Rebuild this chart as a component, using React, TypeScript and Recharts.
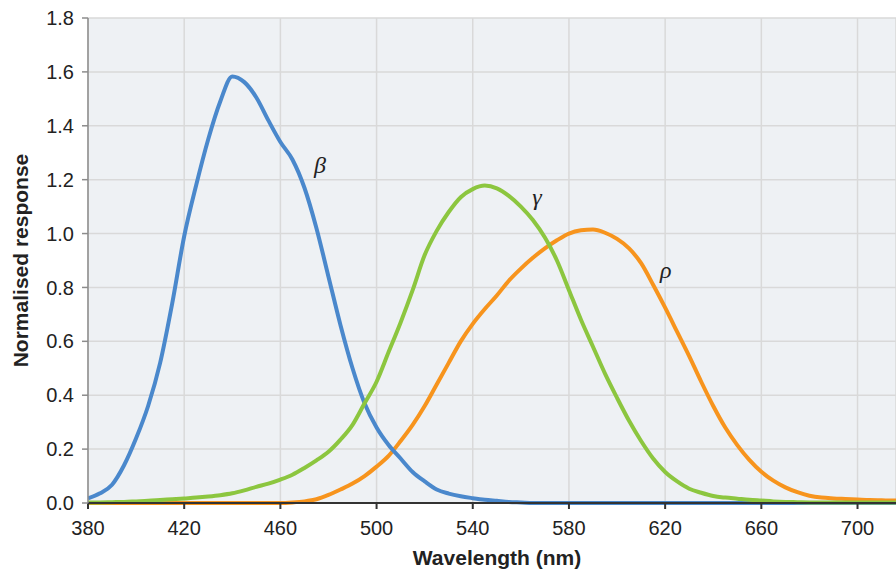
import React from 'react'
import { LineChart, Line, XAxis, YAxis, CartesianGrid, ReferenceDot } from 'recharts'

// wavelength samples (nm)
const wavelengths = [
  380, 385, 390, 395, 400, 405, 410, 415, 420, 425, 430, 435, 440, 445, 450, 455, 460, 465, 470,
  475, 480, 485, 490, 495, 500, 505, 510, 515, 520, 525, 530, 535, 540, 545, 550, 555, 560, 565,
  570, 575, 580, 585, 590, 595, 600, 605, 610, 615, 620, 625, 630, 635, 640, 645, 650, 655, 660,
  665, 670, 675, 680, 685, 690, 695, 700, 705, 710, 715, 720,
]

// β cone response
const beta = [
  0.017, 0.036, 0.068, 0.14, 0.24, 0.36, 0.52, 0.74, 0.99, 1.18, 1.35, 1.49, 1.583, 1.562, 1.505,
  1.42, 1.34, 1.275, 1.17, 1.02, 0.84, 0.66, 0.5, 0.37, 0.28, 0.215, 0.165, 0.115, 0.08, 0.05,
  0.035, 0.025, 0.018, 0.012, 0.008, 0.004, 0.002, 0, 0, 0, 0, 0, 0, 0, 0, 0, 0, 0, 0, 0, 0, 0,
  0, 0, 0, 0, 0, 0, 0, 0, 0, 0, 0, 0, 0, 0, 0, 0, 0,
]

// γ cone response
const gamma = [
  0.002, 0.002, 0.003, 0.004, 0.006, 0.008, 0.011, 0.014, 0.017, 0.02, 0.024, 0.029, 0.036, 0.047,
  0.06, 0.072, 0.087, 0.105, 0.13, 0.158, 0.19, 0.235, 0.29, 0.37, 0.45, 0.56, 0.67, 0.79, 0.92,
  1.01, 1.08, 1.135, 1.165, 1.178, 1.168, 1.14, 1.1, 1.05, 0.985, 0.9, 0.79, 0.68, 0.58, 0.48, 0.39,
  0.305, 0.23, 0.165, 0.115, 0.08, 0.053, 0.038, 0.026, 0.02, 0.016, 0.012, 0.009, 0.006, 0.004,
  0.003, 0.002, 0.002, 0.002, 0.002, 0.002, 0.002, 0.002, 0.002, 0.002,
]

// ρ cone response
const rho = [
  0, 0, 0, 0, 0, 0, 0, 0, 0, 0, 0, 0, 0, 0, 0, 0, 0, 0.002, 0.006, 0.014, 0.03, 0.05, 0.072, 0.1,
  0.135, 0.175, 0.23, 0.29, 0.36, 0.44, 0.52, 0.6, 0.665, 0.72, 0.77, 0.825, 0.87, 0.91, 0.945,
  0.975, 1.0, 1.012, 1.015, 1.003, 0.98, 0.945, 0.89, 0.81, 0.725, 0.635, 0.545, 0.45, 0.36, 0.28,
  0.215, 0.16, 0.116, 0.083, 0.058, 0.04, 0.027, 0.02, 0.017, 0.015, 0.013, 0.011, 0.01, 0.009,
  0.009,
]

const xTicks = [380, 420, 460, 500, 540, 580, 620, 660, 700]
const yTicks = [0, 0.2, 0.4, 0.6, 0.8, 1.0, 1.2, 1.4, 1.6, 1.8]

const curveLabels = [
  { text: 'β', nm: 476.5, value: 1.255 },
  { text: 'γ', nm: 566.7, value: 1.136 },
  { text: 'ρ', nm: 620.3, value: 0.865 },
]

const data = wavelengths.map((nm, i) => ({ nm, beta: beta[i], gamma: gamma[i], rho: rho[i] }))

const FONT = '"Liberation Sans", Arial, Helvetica, sans-serif'

const YTitle = ({ viewBox }: any) => {
  const cy = viewBox.y + viewBox.height / 2
  return (
    <text
      x={20}
      y={cy}
      transform={`rotate(-90, 20, ${cy})`}
      textAnchor="middle"
      dominantBaseline="central"
      fontFamily={FONT}
      fontWeight="bold"
      fontSize={21}
      fill="#222"
    >
      Normalised response
    </text>
  )
}

const XTitle = ({ viewBox }: any) => (
  <text
    x={viewBox.x + viewBox.width / 2 + 5}
    y={viewBox.y + 54}
    textAnchor="middle"
    dominantBaseline="central"
    fontFamily={FONT}
    fontWeight="bold"
    fontSize={21}
    fill="#222"
  >
    Wavelength (nm)
  </text>
)

export default function App() {
  return (
    <div style={{ position: 'absolute', left: 0, top: 0, width: 896, height: 572, background: '#fff' }}>
      <LineChart width={896} height={572} data={data} margin={{ top: 18, right: 0, bottom: 0, left: 0 }}>
        <CartesianGrid fill="#eef1f4" stroke="#d9d9d9" strokeWidth={1.5} />
        <XAxis
          dataKey="nm"
          type="number"
          domain={[380, 716]}
          allowDataOverflow
          ticks={xTicks}
          height={69}
          tickSize={6}
          tickMargin={12}
          stroke="#333"
          strokeWidth={2}
          tick={{ fill: '#222', fontSize: 20, fontFamily: FONT }}
          label={<XTitle />}
        />
        <YAxis
          type="number"
          domain={[0, 1.8]}
          ticks={yTicks}
          width={88}
          tickSize={6}
          tickMargin={8}
          stroke="#8c8c8c"
          strokeWidth={1.5}
          tickFormatter={(v: number) => v.toFixed(1)}
          tick={{ fill: '#222', fontSize: 20, fontFamily: FONT }}
          label={<YTitle />}
        />
        <Line type="monotone" dataKey="rho" stroke="#f7941d" strokeWidth={4} dot={false} isAnimationActive={false} />
        <Line type="monotone" dataKey="beta" stroke="#4a88cc" strokeWidth={4} dot={false} isAnimationActive={false} />
        <Line type="monotone" dataKey="gamma" stroke="#8cc63f" strokeWidth={4} dot={false} isAnimationActive={false} />
        {curveLabels.map((c) => (
          <ReferenceDot
            key={c.text}
            x={c.nm}
            y={c.value}
            r={0}
            shape={(p: any) => (
              <text
                x={p.cx}
                y={p.cy}
                textAnchor="middle"
                dominantBaseline="central"
                fontFamily='"Liberation Serif", "DejaVu Serif", serif'
                fontStyle="italic"
                fontSize={24}
                fill="#222"
              >
                {c.text}
              </text>
            )}
          />
        ))}
      </LineChart>
    </div>
  )
}
